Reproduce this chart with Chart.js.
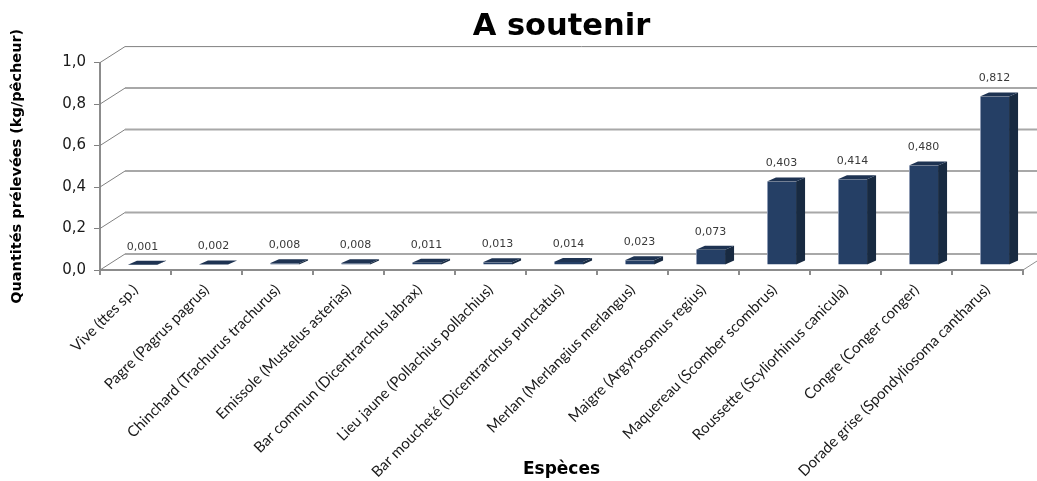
<!DOCTYPE html>
<html>
<head>
<meta charset="utf-8">
<script src="https://cdn.jsdelivr.net/npm/chart.js@4/dist/chart.umd.min.js"></script>
<style>
  html, body { margin: 0; padding: 0; background: #ffffff; }
  #wrap { width: 1037px; height: 481px; }
</style>
</head>
<body>
<div id="wrap"><canvas id="chart" width="1037" height="481"></canvas></div>
<script>
// Species (common name + scientific name)
const species = [
  'Vive (ttes sp.)',
  'Pagre (Pagrus pagrus)',
  'Chinchard (Trachurus trachurus)',
  'Emissole (Mustelus asterias)',
  'Bar commun (Dicentrarchus labrax)',
  'Lieu jaune (Pollachius pollachius)',
  'Bar moucheté (Dicentrarchus punctatus)',
  'Merlan (Merlangius merlangus)',
  'Maigre (Argyrosomus regius)',
  'Maquereau (Scomber scombrus)',
  'Roussette (Scyliorhinus canicula)',
  'Congre (Conger conger)',
  'Dorade grise (Spondyliosoma cantharus)'
];

// Quantity taken per fisher, kg
const quantities = [0.001, 0.002, 0.008, 0.008, 0.011, 0.013, 0.014, 0.023, 0.073, 0.403, 0.414, 0.480, 0.812];

// Value axis tick labels (French decimal comma)
const yTickLabels = ['0,0', '0,2', '0,4', '0,6', '0,8', '1,0'];

// Pseudo-3D geometry
const WALL_DX = 25, WALL_DY = -16;   // depth of the back wall
const BAR_DX = 7, BAR_DY = -5;       // bar front face set back from the axis plane
const SIDE_DX = 9, SIDE_DY = -4;     // bar depth
const FRONT_COLOR = '#253F65';
const SIDE_COLOR = '#182A41';
const TOP_COLOR = '#1E3352';

const fmt3 = v => v.toFixed(3).replace('.', ',');

const box3d = {
  id: 'box3d',
  beforeDatasetsDraw(chart) {
    const { ctx, chartArea: a, scales: { y } } = chart;
    ctx.save();
    y.ticks.forEach((t, i) => {
      const py = y.getPixelForValue(t.value);
      const isTop = i === y.ticks.length - 1;
      // back wall line
      ctx.lineWidth = isTop ? 1 : 2;
      ctx.strokeStyle = isTop ? '#808080' : '#a8a8a8';
      ctx.beginPath();
      ctx.moveTo(a.left + WALL_DX, py + WALL_DY);
      ctx.lineTo(a.right + WALL_DX + 40, py + WALL_DY);
      ctx.stroke();
      // side wall connector
      ctx.lineWidth = 1;
      ctx.strokeStyle = '#808080';
      ctx.beginPath();
      ctx.moveTo(a.left, py);
      ctx.lineTo(a.left + WALL_DX, py + WALL_DY);
      ctx.stroke();
    });
    // right edge of the floor
    ctx.strokeStyle = '#909090';
    ctx.lineWidth = 1;
    ctx.beginPath();
    ctx.moveTo(a.right, a.bottom);
    ctx.lineTo(a.right + WALL_DX, a.bottom + WALL_DY);
    ctx.stroke();
    ctx.restore();

    // front faces are drawn set back into the depth of the plot
    ctx.save();
    ctx.translate(BAR_DX, BAR_DY);
  },
  afterDatasetsDraw(chart) {
    const ctx = chart.ctx;
    ctx.restore();
    const meta = chart.getDatasetMeta(0);
    ctx.save();
    meta.data.forEach((bar, i) => {
      const { x, y, base, width } = bar.getProps(['x', 'y', 'base', 'width'], true);
      const l = x - width / 2 + BAR_DX;
      const r = x + width / 2 + BAR_DX;
      const t = y + BAR_DY;
      const b = base + BAR_DY;
      // side face
      ctx.fillStyle = SIDE_COLOR;
      ctx.beginPath();
      ctx.moveTo(r, t);
      ctx.lineTo(r + SIDE_DX, t + SIDE_DY);
      ctx.lineTo(r + SIDE_DX, b + SIDE_DY);
      ctx.lineTo(r, b);
      ctx.closePath();
      ctx.fill();
      // top face
      ctx.fillStyle = TOP_COLOR;
      ctx.beginPath();
      ctx.moveTo(l, t);
      ctx.lineTo(l + SIDE_DX, t + SIDE_DY);
      ctx.lineTo(r + SIDE_DX, t + SIDE_DY);
      ctx.lineTo(r, t);
      ctx.closePath();
      ctx.fill();
      // value label
      ctx.fillStyle = '#3a3a3a';
      ctx.font = '11px "DejaVu Sans"';
      ctx.textAlign = 'center';
      ctx.textBaseline = 'middle';
      ctx.fillText(fmt3(quantities[i]), x + BAR_DX, t + SIDE_DY - 14);
    });
    ctx.restore();
  }
};

new Chart(document.getElementById('chart'), {
  type: 'bar',
  data: {
    labels: species,
    datasets: [{
      data: quantities,
      backgroundColor: FRONT_COLOR,
      borderColor: '#8d9bb3',
      borderWidth: { left: 1, top: 0, right: 0, bottom: 0 },
      borderSkipped: false,
      barPercentage: 0.41,
      categoryPercentage: 1.0
    }]
  },
  options: {
    responsive: false,
    animation: false,
    events: [],
    layout: { padding: { left: 0, right: 14, top: 0, bottom: 0 } },
    plugins: {
      legend: { display: false },
      tooltip: { enabled: false },
      title: {
        display: true,
        fullSize: false,
        text: 'A soutenir',
        color: '#000000',
        font: { family: 'DejaVu Sans', size: 30.5, weight: 'bold' },
        padding: { top: 9, bottom: 17 }
      }
    },
    scales: {
      x: {
        offset: true,
        grid: {
          display: true,
          offset: true,
          drawOnChartArea: false,
          drawTicks: true,
          tickLength: 5,
          color: '#8c8c8c',
          lineWidth: 2
        },
        border: { display: true, color: '#8c8c8c', width: 2 },
        ticks: {
          autoSkip: false,
          minRotation: 45,
          maxRotation: 45,
          padding: 6,
          color: '#1a1a1a',
          font: { family: 'Lato', size: 15 }
        },
        title: {
          display: true,
          text: 'Espèces',
          color: '#000000',
          font: { family: 'DejaVu Sans', size: 17, weight: 'bold' },
          padding: { top: 0, bottom: 1 }
        },
        afterFit(scale) { scale.height = 211; }
      },
      y: {
        min: 0,
        max: 1,
        ticks: {
          stepSize: 0.2,
          padding: 8,
          color: '#1a1a1a',
          font: { family: 'DejaVu Sans', size: 15 },
          callback: (v, i) => yTickLabels[i]
        },
        grid: {
          display: true,
          drawOnChartArea: false,
          drawTicks: true,
          tickLength: 6,
          color: '#808080',
          lineWidth: 1
        },
        border: { display: true, color: '#8c8c8c', width: 2 },
        title: {
          display: true,
          text: 'Quantités prélevées (kg/pêcheur)',
          color: '#000000',
          font: { family: 'DejaVu Sans', size: 14.5, weight: 'bold' },
          padding: { top: 9, bottom: 0 }
        },
        afterFit(scale) { scale.width = 100; }
      }
    }
  },
  plugins: [box3d]
});
</script>
</body>
</html>
